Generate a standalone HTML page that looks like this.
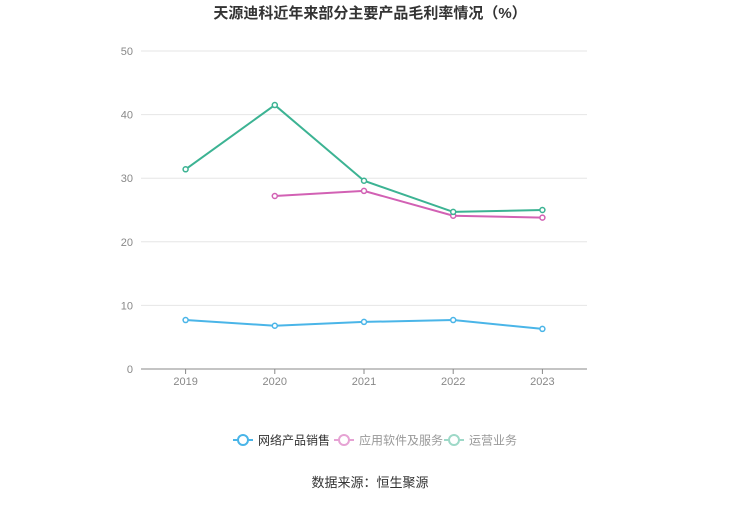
<!DOCTYPE html>
<html><head><meta charset="utf-8"><style>
body{margin:0;background:#fff;font-family:"Liberation Sans","Noto Sans CJK SC",sans-serif;}
svg text{font-family:"Liberation Sans","Noto Sans CJK SC",sans-serif;}
</style></head><body>
<svg width="740" height="500" xmlns="http://www.w3.org/2000/svg">
<text x="370" y="18" text-anchor="middle" font-size="15" font-weight="bold" fill="#333">天源迪科近年来部分主要产品毛利率情况（%）</text>
<g id="grid"></g>
<g id="series"></g>
<g>
<g><line x1="233" y1="440" x2="253" y2="440" stroke="#4ab5e8" stroke-width="2"/><circle cx="243" cy="440" r="5" fill="#fff" stroke="#4ab5e8" stroke-width="2"/><text x="258" y="444.5" font-size="12" fill="#333">网络产品销售</text></g>
<g><line x1="334" y1="440" x2="354" y2="440" stroke="#e6a3d4" stroke-width="2"/><circle cx="344" cy="440" r="5" fill="#fff" stroke="#e6a3d4" stroke-width="2"/><text x="359" y="444.5" font-size="12" fill="#999">应用软件及服务</text></g>
<g><line x1="444" y1="440" x2="464" y2="440" stroke="#9ed9c8" stroke-width="2"/><circle cx="454" cy="440" r="5" fill="#fff" stroke="#9ed9c8" stroke-width="2"/><text x="469" y="444.5" font-size="12" fill="#999">运营业务</text></g>
</g>
<text x="370" y="487" text-anchor="middle" font-size="13" fill="#333">数据来源：恒生聚源</text>
</svg>
<script>
const categories=["2019","2020","2021","2022","2023"];
const yTicks=[0,10,20,30,40,50];
const network=[7.7,6.8,7.4,7.7,6.3];
const software=[null,27.2,28.0,24.1,23.8];
const operation=[31.4,41.5,29.6,24.7,25.0];
const NS="http://www.w3.org/2000/svg";
const x0=141,x1=587,yTop=51,yBot=369;
const xs=i=>x0+(x1-x0)*(i+0.5)/categories.length;
const ys=v=>yBot-(v/50)*(yBot-yTop);
const grid=document.getElementById('grid'),ser=document.getElementById('series');
function mk(t,a,p){const e=document.createElementNS(NS,t);for(const k in a)e.setAttribute(k,a[k]);p.appendChild(e);return e;}
yTicks.forEach(v=>{
 const l=mk('line',{x1:x0,x2:x1,y1:ys(v),y2:ys(v),stroke:v===0?'#888':'#e6e6e6','stroke-width':1},grid);
 
 
 const t=mk('text',{x:133,y:ys(v)+4,'text-anchor':'end','font-size':11,fill:'#888'},grid);t.textContent=v;
 
 
});
categories.forEach((c,i)=>{
 const tk=mk('line',{x1:xs(i),x2:xs(i),y1:yBot,y2:yBot+5,stroke:'#888'},grid);
 
 
 const t=mk('text',{x:xs(i),y:yBot+16,'text-anchor':'middle','font-size':11,fill:'#888'},grid);t.textContent=c;
 
 
});
[[network,'#4ab5e8','network'],[software,'#d261b4','software'],[operation,'#3cb393','operation']].forEach(([d,col,n])=>{
 const pts=d.map((v,i)=>v==null?null:[xs(i),ys(v)]).filter(p=>p);
 const pl=mk('polyline',{points:pts.map(p=>p.join(',')).join(' '),fill:'none',stroke:col,'stroke-width':2},ser);
 
 
 pts.forEach(p=>{const c=mk('circle',{cx:p[0],cy:p[1],r:2.5,fill:'#fff',stroke:col,'stroke-width':1.5},ser);
 
 });
});
</script>
</body></html>
